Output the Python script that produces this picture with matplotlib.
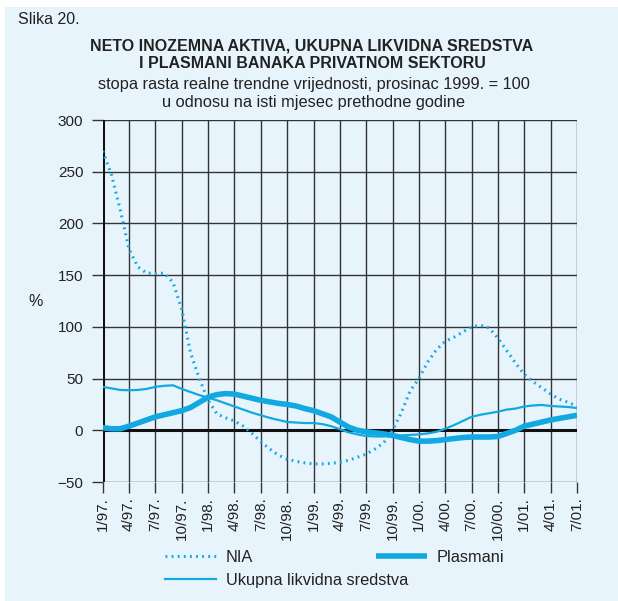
import matplotlib
matplotlib.use('Agg')
import matplotlib.pyplot as plt
from matplotlib.patches import Rectangle
from matplotlib.lines import Line2D

plt.rcParams['font.family'] = ['Liberation Sans Narrow', 'Liberation Sans', 'DejaVu Sans']

# monthly values, 1/97 .. 7/01
nia = [270, 247, 213, 175, 158, 152, 151.5, 152, 143, 117, 75, 50, 29, 16, 12, 9, 4, -3,
       -11, -18, -24, -28, -30, -31.5, -32.5, -32.5, -32, -31, -29, -26, -23, -18, -12, 0,
       17, 38, 50, 66, 78, 86, 90, 95, 100, 101.5, 99, 89, 77, 65, 54, 47, 41, 35, 30, 27, 23]
ukupna = [42, 40.5, 39, 38.7, 39, 40, 42, 43, 43.5, 40, 37, 34, 31.5, 29, 26, 23, 20, 17,
          14.5, 12, 10, 8, 7.5, 7, 7, 6, 4, 1, -2, -4, -5.5, -6, -6, -5, -5, -4.5,
          -4, -3, -1.5, 1.5, 5, 9, 13, 15, 16.5, 18, 20, 21, 23, 24, 24.5, 23.5, 23, 22.5, 21.5]
plasmani = [2.5, 1.5, 1.5, 4, 7, 10, 13, 15, 17, 19, 22, 27, 32, 34.5, 35.5, 35, 33, 31,
            29, 27.5, 26, 25, 23.5, 21, 19, 16, 13, 8, 3, 0, -1.5, -2.5, -3.5, -5, -7, -9,
            -10.5, -10.5, -10, -9, -8, -7, -6.5, -6.5, -6.5, -6, -3, 0, 4, 6, 8, 10, 11.5, 13, 14.5]
tick_labels = ['1/97.', '4/97.', '7/97.', '10/97.', '1/98.', '4/98.', '7/98.', '10/98.',
               '1/99.', '4/99.', '7/99.', '10/99.', '1/00.', '4/00.', '7/00.', '10/00.',
               '1/01.', '4/01.', '7/01.']
y_ticks = [-50, 0, 50, 100, 150, 200, 250, 300]

bg = '#e8f4fc'
blue = '#12a9e3'
grid = '#333333'
txt = '#222222'

fig = plt.figure(figsize=(6.18, 6.01), dpi=100, facecolor='white')
fig.patches.append(Rectangle((5 / 618, 0), 1, 1 - 7 / 601, transform=fig.transFigure,
                             facecolor=bg, edgecolor='none', zorder=-10))

ax = fig.add_axes([102.7 / 618, 1 - 482 / 601, (577 - 102.7) / 618, (482 - 120) / 601])
ax.set_facecolor(bg)

months = list(range(len(nia)))
ax.plot(months, nia, color=blue, lw=2.2, ls=(0, (0.6, 1.4)), zorder=5)
ax.plot(months, ukupna, color=blue, lw=1.6, zorder=5)
ax.plot(months, plasmani, color=blue, lw=4, zorder=6, solid_capstyle='butt')

xt = [3 * i for i in range(len(tick_labels))]
ax.set_xlim(0, 54)
ax.set_ylim(-50, 300)
ax.set_xticks(xt)
ax.set_xticklabels(tick_labels, rotation=90, fontsize=11, color=txt)
ax.set_yticks(y_ticks)
ax.set_yticklabels(['\u221250' if v < 0 else str(v) for v in y_ticks], fontsize=11, color=txt)
ax.tick_params(axis='x', length=8, width=1, color=grid, pad=3)
ax.tick_params(axis='y', length=8, width=1, color=grid, pad=6)

for x in xt:
    ax.axvline(x, color=grid, lw=1, zorder=1)
for y in y_ticks:
    ax.axhline(y, color=grid, lw=1, zorder=1)
ax.axhline(0, color='#111111', lw=2.2, zorder=2)
ax.axvline(0, color='#111111', lw=2.2, zorder=2)
for s in ax.spines.values():
    s.set_visible(False)

fig.text(18 / 618, 1 - 20 / 601, 'Slika 20.', fontsize=11.5, va='center', ha='left', color=txt)
fig.text(312 / 618, 1 - 46 / 601, 'NETO INOZEMNA AKTIVA, UKUPNA LIKVIDNA SREDSTVA',
         fontsize=11.5, fontweight='bold', ha='center', va='center', color=txt)
fig.text(312 / 618, 1 - 63 / 601, 'I PLASMANI BANAKA PRIVATNOM SEKTORU',
         fontsize=11.5, fontweight='bold', ha='center', va='center', color=txt)
fig.text(314 / 618, 1 - 85 / 601, 'stopa rasta realne trendne vrijednosti, prosinac 1999. = 100',
         fontsize=11.8, ha='center', va='center', color=txt)
fig.text(314 / 618, 1 - 102 / 601, 'u odnosu na isti mjesec prethodne godine',
         fontsize=11.8, ha='center', va='center', color=txt)
fig.text(36 / 618, 1 - 302 / 601, '%', fontsize=11.5, ha='center', va='center', color=txt)

# legend
def leg(x0, y0, text, **kw):
    fig.add_artist(Line2D([x0 / 618, (x0 + 51) / 618], [1 - y0 / 601] * 2,
                          transform=fig.transFigure, color=blue, **kw))
    fig.text((x0 + 61) / 618, 1 - (y0 + 1) / 601, text, fontsize=11.8, va='center',
             ha='left', color=txt)

leg(165, 556, 'NIA', lw=2.2, ls=(0, (0.6, 1.4)))
leg(376, 556, 'Plasmani', lw=4, solid_capstyle='butt')
leg(165, 579, 'Ukupna likvidna sredstva', lw=1.6)

fig.savefig('out.png', dpi=100, facecolor='white')
